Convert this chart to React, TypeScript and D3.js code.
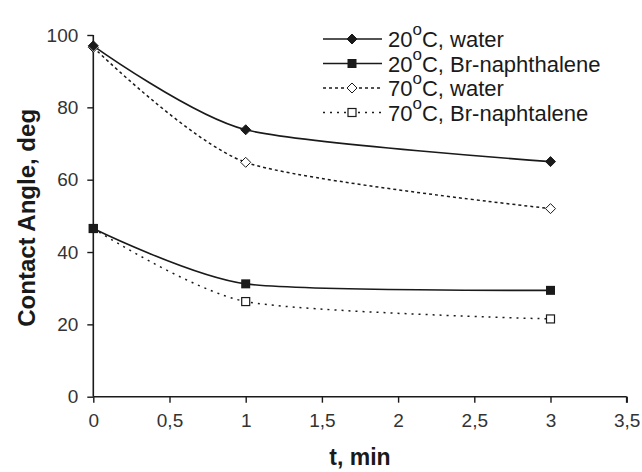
import * as d3 from "d3";
import {useEffect, useRef} from "react";

// time, min
const times = [0, 1, 3];
const water20 = [97, 73.8, 65];
const brNaph20 = [46.5, 31.2, 29.4];
const water70 = [96.6, 64.8, 52];
const brNaph70 = [46.5, 26.3, 21.5];

const xTicks = [0, 0.5, 1, 1.5, 2, 2.5, 3, 3.5];
const yTicks = [0, 20, 40, 60, 80, 100];

const seriesNames = ["20", "20", "70", "70"];
const seriesLabels = ["C, water", "C, Br-naphthalene", "C, water", "C, Br-naphtalene"];

const App = () => {
    const ref = useRef<SVGSVGElement>(null);

    useEffect(() => {
        const width = 642, height = 472;
        const svg = d3.select(ref.current);
        svg.selectAll("*").remove();

        const x = d3.scaleLinear().domain([0, 3.5]).range([93.3, 626.7]);
        const y = d3.scaleLinear().domain([0, 100]).range([396.7, 35]);
        const font = "Arial, 'Liberation Sans', sans-serif";
        const ink = "#1a1a1a";

        // axes
        const xAxis = svg.append("g")
            .attr("transform", `translate(0, ${y(0)})`)
            .call(d3.axisBottom(x).tickValues(xTicks).tickSize(6).tickPadding(11)
                .tickFormat(d => String(d).replace(".", ",")));
        const yAxis = svg.append("g")
            .attr("transform", `translate(${x(0)}, 0)`)
            .call(d3.axisLeft(y).tickValues(yTicks).tickSize(6).tickPadding(9));
        [xAxis, yAxis].forEach(g => {
            g.attr("font-size", null).attr("font-family", null);
            g.select(".domain").attr("stroke", ink).attr("stroke-width", 1.6);
            g.selectAll(".tick line").attr("stroke", ink).attr("stroke-width", 1.4);
            g.selectAll(".tick text").attr("fill", "#333")
                .style("font-family", font).style("font-size", "19px");
        });
        xAxis.select(".domain").attr("d", `M${x(0)},0H${x(3.5)}M${x(3.5)},0V6`);
        yAxis.select(".domain").attr("d", `M0,${y(0)}V${y(100)}`);

        const data = [water20, brNaph20, water70, brNaph70];
        const dashes = [null, null, "3,3", "2,5"];
        const line = d3.line<number>()
            .x((d, i) => x(times[i]))
            .y(d => y(d))
            .curve(d3.curveCardinal.tension(0.3));

        data.forEach((vals, k) => {
            svg.append("path")
                .attr("d", line(vals))
                .attr("fill", "none")
                .attr("stroke", ink)
                .attr("stroke-width", k < 2 ? 1.6 : 1.5)
                .attr("stroke-dasharray", dashes[k]);
        });

        const drawMarker = (g, k, cx, cy) => {
            if (k === 0 || k === 2) {
                g.append("path")
                    .attr("d", `M${cx},${cy - 5}L${cx + 5},${cy}L${cx},${cy + 5}L${cx - 5},${cy}Z`)
                    .attr("fill", k === 0 ? ink : "white")
                    .attr("stroke", ink).attr("stroke-width", 1);
            } else {
                const s = k === 1 ? 9 : 8;
                g.append("rect")
                    .attr("x", cx - s / 2).attr("y", cy - s / 2)
                    .attr("width", s).attr("height", s)
                    .attr("fill", k === 1 ? ink : "white")
                    .attr("stroke", ink).attr("stroke-width", k === 1 ? 0 : 1.2);
            }
        };

        [2, 3, 0, 1].forEach(k => {
            data[k].forEach((v, i) => drawMarker(svg, k, x(times[i]), y(v)));
        });

        // legend
        const leg = svg.append("g");
        seriesLabels.forEach((lab, k) => {
            const ly = 39 + k * 24.5;
            leg.append("line")
                .attr("x1", 323).attr("x2", 382).attr("y1", ly).attr("y2", ly)
                .attr("stroke", ink).attr("stroke-width", 1.6)
                .attr("stroke-dasharray", dashes[k]);
            drawMarker(leg, k, 352, ly);
            const t = leg.append("text")
                .attr("x", 388).attr("y", ly + 8)
                .style("font-family", font).style("font-size", "22px").attr("fill", ink);
            t.append("tspan").text(seriesNames[k]);
            t.append("tspan").attr("dy", -12).style("font-size", "17px").text("o");
            t.append("tspan").attr("dy", 12).text(lab);
        });

        // axis titles
        svg.append("text")
            .attr("transform", `translate(35, ${(y(0) + y(100)) / 2 + 2}) rotate(-90)`)
            .attr("text-anchor", "middle")
            .style("font-family", font).style("font-size", "24px").style("font-weight", "bold")
            .attr("fill", ink)
            .text("Contact Angle, deg");
        svg.append("text")
            .attr("x", 360).attr("y", 465)
            .attr("text-anchor", "middle")
            .style("font-family", font).style("font-size", "23px").style("font-weight", "bold")
            .attr("fill", ink)
            .text("t, min");

        svg.attr("width", width).attr("height", height);
    }, []);

    return (
        <svg ref={ref} width={642} height={472}
             style={{position: "absolute", left: 0, top: 0, background: "white"}}/>
    );
};

export default App;
